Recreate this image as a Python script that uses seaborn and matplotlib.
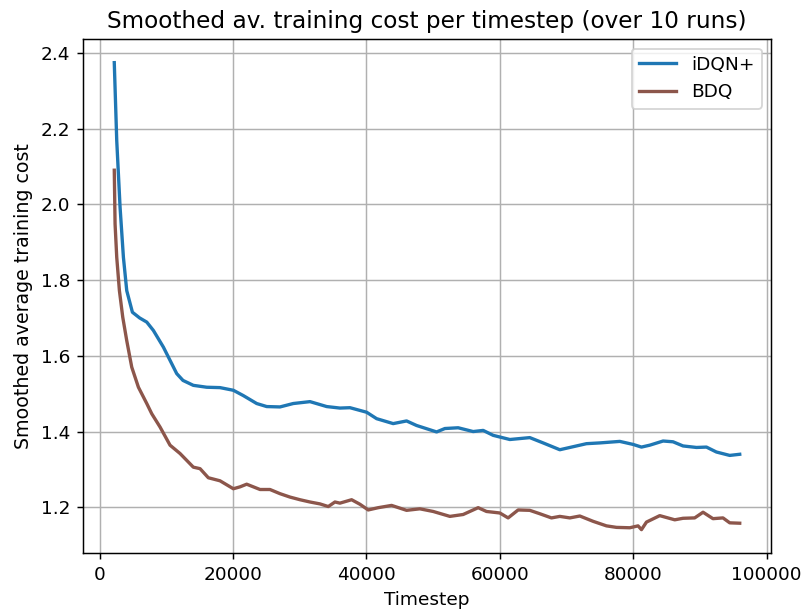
import matplotlib
matplotlib.use("Agg")
import matplotlib.pyplot as plt
import seaborn as sns
import pandas as pd

# iDQN+ smoothed average training cost
idqn_steps = [2200, 2570, 3070, 3570, 4070, 4920, 6000, 7070, 8060, 9560, 11560,
              12500, 14050, 16060, 18050, 20050, 21540, 23550, 25050, 27040,
              29030, 31540, 34040, 36030, 37530, 40030, 41530, 44010, 46020,
              47520, 50520, 51760, 53750, 56000, 57500, 59000, 61500, 64490,
              66490, 68990, 70490, 72990, 74980, 76480, 77980, 79980, 81230,
              82470, 84470, 85960, 87460, 89470, 90970, 92460, 94460, 95960]
idqn_cost = [2.374, 2.168, 1.992, 1.860, 1.772, 1.715, 1.700, 1.689, 1.667, 1.623,
             1.553, 1.535, 1.522, 1.517, 1.516, 1.509, 1.495, 1.474, 1.466, 1.465,
             1.474, 1.479, 1.466, 1.462, 1.463, 1.451, 1.434, 1.421, 1.428,
             1.416, 1.399, 1.408, 1.410, 1.400, 1.403, 1.390, 1.379, 1.384,
             1.370, 1.352, 1.358, 1.368, 1.370, 1.372, 1.374, 1.366, 1.359,
             1.364, 1.375, 1.373, 1.362, 1.358, 1.359, 1.346, 1.337, 1.340]

# BDQ smoothed average training cost
bdq_steps = [2200, 2320, 2570, 2970, 3470, 4070, 4820, 5820, 7070, 7820, 9060,
             10560, 12060, 14050, 15060, 16300, 18050, 20050, 21050, 22050,
             24050, 25540, 27040, 28540, 30040, 31540, 33030, 34280, 35280,
             36030, 37780, 39030, 40270, 41770, 43770, 46020, 48010, 50010,
             52510, 54500, 56750, 58000, 60000, 61240, 62740, 64490, 65990,
             67740, 68990, 70490, 71990, 73980, 75980, 77480, 79480, 80720,
             81230, 81980, 83970, 86220, 87460, 89210, 90460, 91950, 93450,
             94460, 95960]
bdq_cost = [2.090, 1.948, 1.860, 1.772, 1.702, 1.640, 1.570, 1.517, 1.474, 1.447,
            1.412, 1.364, 1.342, 1.306, 1.302, 1.278, 1.270, 1.249, 1.254, 1.261,
            1.247, 1.247, 1.236, 1.227, 1.220, 1.214, 1.209, 1.202, 1.214,
            1.211, 1.220, 1.208, 1.193, 1.199, 1.205, 1.192, 1.196, 1.189,
            1.176, 1.181, 1.199, 1.189, 1.185, 1.172, 1.193, 1.192, 1.183,
            1.172, 1.176, 1.172, 1.177, 1.163, 1.151, 1.147, 1.146, 1.151,
            1.141, 1.161, 1.178, 1.167, 1.171, 1.172, 1.187, 1.170, 1.172,
            1.159, 1.158]

labels = ["iDQN+", "BDQ"]
colors = ["#1f77b4", "#8c564b"]

dpi = 133
fig = plt.figure(figsize=(805 / dpi, 613 / dpi), dpi=dpi)
ax = fig.add_axes([83 / 805, 1 - 553 / 613, (771 - 83) / 805, (553 - 39.3) / 613])

sns.lineplot(x=idqn_steps, y=idqn_cost, ax=ax, color=colors[0], label=labels[0], linewidth=1.8)
sns.lineplot(x=bdq_steps, y=bdq_cost, ax=ax, color=colors[1], label=labels[1], linewidth=1.8)

ax.grid(True, color="#b0b0b0", linewidth=0.8)
ax.set_axisbelow(True)
ax.set_title("Smoothed av. training cost per timestep (over 10 runs)", fontsize=12.5)
ax.set_xlabel("Timestep", fontsize=10)
ax.set_ylabel("Smoothed average training cost", fontsize=10.3)
ax.legend(loc="upper right")

fig.savefig("out.png", dpi=dpi)
